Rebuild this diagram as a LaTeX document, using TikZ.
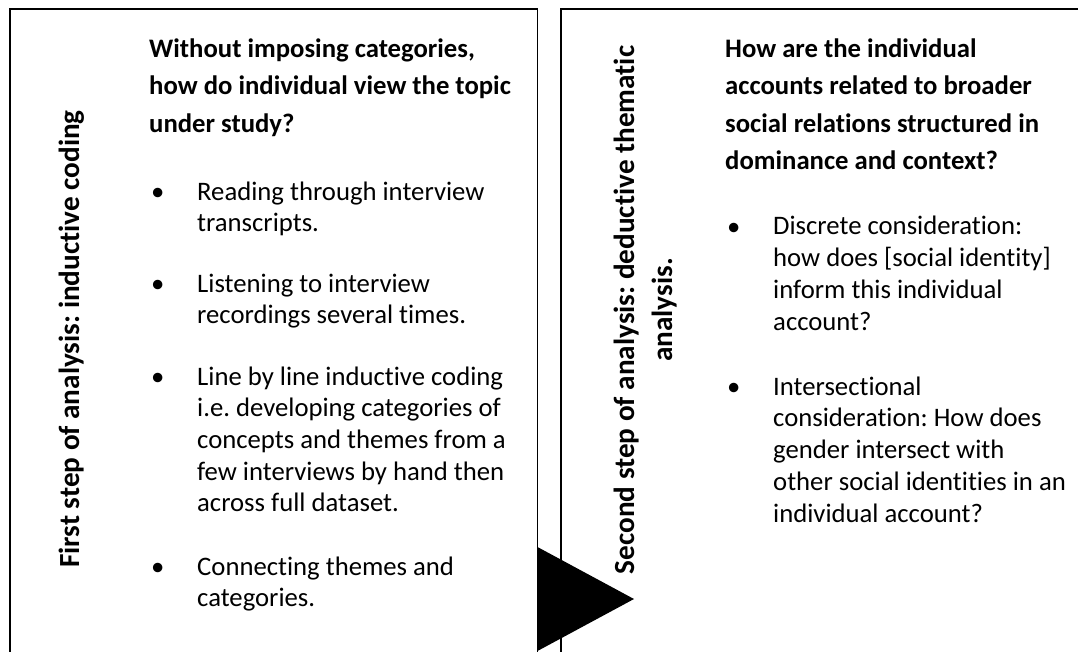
\documentclass[tikz,border=0pt]{standalone}
\usepackage{fontspec}
\setmainfont{Carlito}[RawFeature=-liga]
\frenchspacing
\begin{document}
% multi-line nodes are placed by the baseline of their last line
\begin{tikzpicture}[x=1pt,y=-1pt,
  frame/.style={draw=black, line width=1.6pt},
  head/.style={anchor=base west, align=left, inner sep=0pt,
    font=\fontsize{26.7}{37.5}\selectfont\bfseries},
  item/.style={anchor=base west, align=left, inner sep=0pt,
    font=\fontsize{26.7}{31.7}\selectfont},
  dot/.style={anchor=base west, inner sep=0pt,
    font=\fontsize{26.7}{31.7}\selectfont},
  side/.style={rotate=90, align=center, inner sep=0pt,
    font=\fontsize{29.2}{38}\selectfont\bfseries}]
\useasboundingbox (0,0) rectangle (1078,651);

% the two stage panels, open at the bottom (and at the right for the second)
\draw[frame] (10,670) -- (10,9) -- (537.5,9) -- (537.5,670);
\draw[frame] (561,670) -- (561,9) -- (1090,9);

% first stage
\node[side] (firstlabel) at (72,339) {First step of analysis: inductive coding};
\node[head] (firstq) at (149,132) {Without imposing categories,\\how do individual view the topic\\under study?};
\node[dot] (b1) at (151,200) {•};
\node[item] (i1) at (197,231.7) {Reading through interview\\transcripts.};
\node[dot] (b2) at (151,292) {•};
\node[item] (i2) at (197,323.7) {Listening to interview\\recordings several times.};
\node[dot] (b3) at (151,385) {•};
\node[item] (i3) at (197,511.8) {Line by line inductive coding\\i.e. developing categories of\\concepts and themes from a\\few interviews by hand then\\across full dataset.};
\node[dot] (b4) at (151,575) {•};
\node[item] (i4) at (197,606.7) {Connecting themes and\\categories.};

% second stage
\node[side] (secondlabel) at (646,310) {Second step of analysis: deductive thematic\\analysis.};
\node[head] (secondq) at (725,169.5) {How are the individual\\accounts related to broader\\social relations structured in\\dominance and context?};
\node[dot] (c1) at (727,235) {•};
\node[item] (j1) at (773,330) {Discrete consideration:\\how does [social identity]\\inform this individual\\account?};
\node[dot] (c2) at (727,395) {•};
\node[item] (j2) at (773,522) {Intersectional\\consideration: How does\\gender intersect with\\other social identities in an\\individual account?};

% arrow head linking the stages
\fill[black] (537.5,547) -- (634,599) -- (537.5,651) -- cycle;
\end{tikzpicture}
\end{document}
